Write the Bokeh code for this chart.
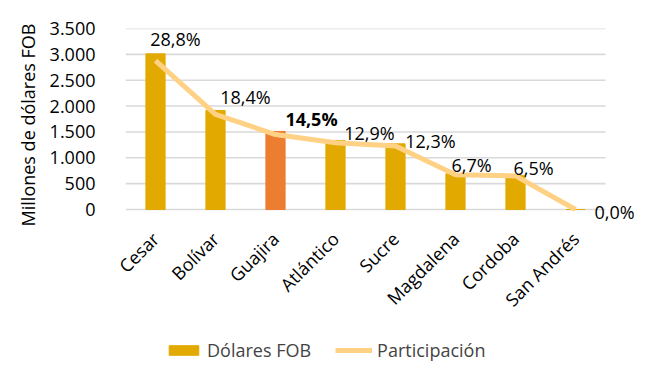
from bokeh.plotting import figure
from bokeh.models import (ColumnDataSource, Range1d, FixedTicker,
                          CustomJSTickFormatter, Legend, LegendItem, LabelSet)
from bokeh.core.properties import value
from bokeh.layouts import column
from bokeh.embed import file_html
from bokeh.resources import INLINE
import math

# ---- data ----
departamentos = ["Cesar", "Bolívar", "Guajira", "Atlántico", "Sucre",
                 "Magdalena", "Cordoba", "San Andrés"]
dolares_fob = [3010, 1915, 1510, 1335, 1270, 690, 655, 0]
participacion = [28.8, 18.4, 14.5, 12.9, 12.3, 6.7, 6.5, 0.0]
etiquetas = ["28,8%", "18,4%", "14,5%", "12,9%", "12,3%", "6,7%", "6,5%", "0,0%"]
y_ticks = [0, 500, 1000, 1500, 2000, 2500, 3000, 3500]

# ---- styling (not data) ----
FONT = "Open Sans"
FS = "18px"
GOLD = "#E2AA00"
ORANGE = "#ED7D31"
LINE = "#FFD185"
GRID = "#D9D9D9"
bar_colors = [ORANGE if d == "Guajira" else GOLD for d in departamentos]
lab_dx = [20, 30, 36, 34, 35, 16, 18, 39]
lab_dy = [22, 17, 16, 10, 5, 10, 8, -2]
lab_weight = ["bold" if d == "Guajira" else "normal" for d in departamentos]

n = len(departamentos)
xpos = [i + 0.5 for i in range(n)]          # category slot centres
right_room = 35 / 60                          # extra room right of last slot

Y_MAX = 3500
PCT_MAX = 35
PLOT_PX = 181                                 # pixel height of 0..Y_MAX
BELOW_PX = 12                                 # room below zero for labels
y_lo = -Y_MAX * BELOW_PX / PLOT_PX
pct_lo = -PCT_MAX * BELOW_PX / PLOT_PX

src = ColumnDataSource(dict(
    x=xpos, fob=dolares_fob, part=participacion, lab=etiquetas,
    color=bar_colors, dx=lab_dx, dy=lab_dy, w=lab_weight))

MAIN_H = 328
p = figure(width=654, height=MAIN_H, output_backend="svg",
           toolbar_location=None,
           x_range=Range1d(0, n + right_room), y_range=Range1d(y_lo, Y_MAX))
p.min_border_left = 125
p.min_border_right = 14
p.min_border_top = 28
p.min_border_bottom = MAIN_H - 209 - BELOW_PX
p.outline_line_color = None
p.background_fill_color = "white"
p.border_fill_color = "white"

p.extra_y_ranges = {"pct": Range1d(pct_lo, PCT_MAX)}

# horizontal gridlines limited to the category area
p.segment(x0=[0] * len(y_ticks), x1=[n] * len(y_ticks), y0=y_ticks, y1=y_ticks,
          line_color=GRID, line_width=1.6)

bars = p.vbar(x="x", top="fob", width=0.32, color="color", source=src)
line = p.line(x="x", y="part", y_range_name="pct", line_color=LINE,
              line_width=5, source=src)

labels = LabelSet(x="x", y="part", text="lab", y_range_name="pct", source=src,
                  x_offset="dx", y_offset="dy", text_align="center",
                  text_baseline="middle", text_font=value(FONT),
                  text_font_size=value(FS), text_font_style="w",
                  text_color="black")
p.add_layout(labels)

# axes
p.xgrid.grid_line_color = None
p.ygrid.grid_line_color = None

p.yaxis.ticker = FixedTicker(ticks=y_ticks)
p.yaxis.formatter = CustomJSTickFormatter(
    code="return tick.toFixed(0).replace(/\\B(?=(\\d{3})+(?!\\d))/g, '.');")
p.yaxis.axis_line_color = None
p.yaxis.major_tick_line_color = None
p.yaxis.minor_tick_line_color = None
p.yaxis.major_label_text_font = FONT
p.yaxis.major_label_text_font_size = FS
p.yaxis.major_label_text_color = "black"
p.yaxis.major_label_standoff = 24
p.yaxis.axis_label = "Millones de dólares FOB"
p.yaxis.axis_label_text_font = FONT
p.yaxis.axis_label_text_font_size = FS
p.yaxis.axis_label_text_font_style = "normal"
p.yaxis.axis_label_text_color = "black"
p.yaxis.axis_label_standoff = 7

p.xaxis.ticker = FixedTicker(ticks=xpos)
p.xaxis.formatter = CustomJSTickFormatter(
    args=dict(names=departamentos),
    code="return names[Math.floor(tick)];")
p.xaxis.axis_line_color = None
p.xaxis.major_tick_line_color = None
p.xaxis.minor_tick_line_color = None
p.xaxis.major_label_orientation = math.pi / 4
p.xaxis.major_label_text_font = FONT
p.xaxis.major_label_text_font_size = FS
p.xaxis.major_label_text_color = "black"
p.xaxis.major_label_standoff = 20 - BELOW_PX

# ---- legend strip ----
LEG_H = 374 - MAIN_H
q = figure(width=654, height=LEG_H, output_backend="svg", toolbar_location=None,
           x_axis_type=None, y_axis_type=None,
           x_range=Range1d(0, 1), y_range=Range1d(0, 1), min_border=0)
q.outline_line_color = None
q.background_fill_color = "white"
q.border_fill_color = "white"
# key renderers: hidden, only their legend swatches are shown
kb = q.vbar(x=[0.5], top=[0.5], width=0.3, color=GOLD, visible=False)
kl = q.line(x=[0.2, 0.8], y=[0.5, 0.5], line_color=LINE, line_width=5,
            visible=False)
legend = Legend(items=[LegendItem(label="Dólares FOB", renderers=[kb]),
                       LegendItem(label="Participación", renderers=[kl])],
                orientation="horizontal", location=(40, 12),
                glyph_width=37, glyph_height=12, label_text_font=FONT,
                label_text_font_size=FS, label_standoff=5, spacing=24,
                padding=0, margin=0, border_line_color=None,
                background_fill_alpha=0, inactive_fill_alpha=0)
q.add_layout(legend)

open("out.html", "w").write(file_html(column(p, q, spacing=0), INLINE))
